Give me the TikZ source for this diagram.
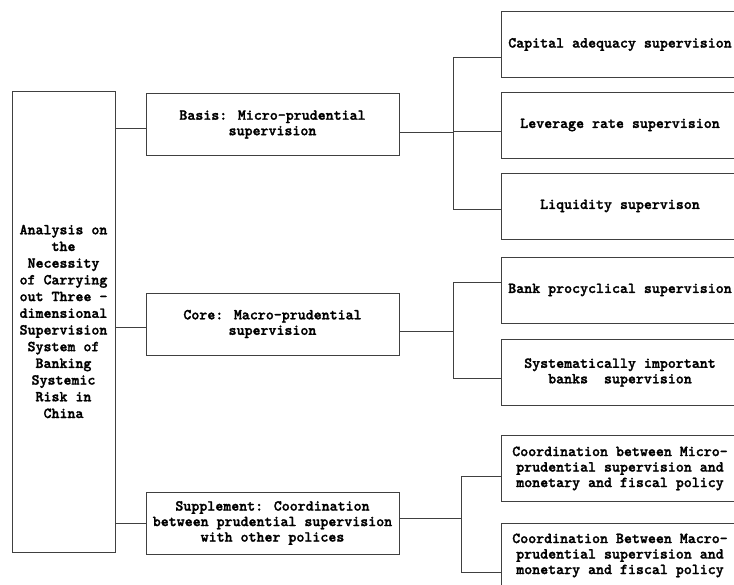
\documentclass[tikz,border=0pt]{standalone}
\usepackage{fontspec}
\newfontfamily\boxfont{lmmonolt10-bold.otf}[FakeBold=1.6]
\usetikzlibrary{calc}

\begin{document}
\begin{tikzpicture}[x=1pt,y=-1pt,
  box/.style={draw=black!75,line width=0.9pt,align=center,inner sep=0pt,
    font=\boxfont\fontsize{15.2}{15.5}\selectfont},
  midbox/.style={box,minimum width=253pt,minimum height=62pt},
  leafbox/.style={box,minimum width=238pt,minimum height=66pt},
  link/.style={draw=black!75,line width=0.9pt}]
\useasboundingbox (0,0) rectangle (734,585);

% root
\node[box,minimum width=103pt,minimum height=461pt,
  font=\boxfont\fontsize{15.2}{16.7}\selectfont] (main) at (63.5,321.5)
  {Analysis on\\the\\Necessity\\of Carrying\\out Three -\\dimensional\\Supervision\\System of\\Banking\\Systemic\\Risk in\\China};

% second level
\node[midbox] (basis) at (272.5,124.5) {Basis: Micro-prudential\\supervision};
\node[midbox] (core) at (272.5,324) {Core: Macro-prudential\\supervision};
\node[midbox] (supp) at (272.5,523) {Supplement: Coordination\\between prudential supervision\\with other polices};

% third level
\node[leafbox] (cap) at (620,44.5) {Capital adequacy supervision};
\node[leafbox] (lev) at (620,125) {Leverage rate supervision};
\node[leafbox] (liq) at (620,206) {Liquidity supervison};
\node[leafbox] (proc) at (620,290) {Bank procyclical supervision};
\node[leafbox] (sib) at (620,372.5) {Systematically important\\banks~~supervision};
\node[leafbox] (comi) at (620,468.5) {Coordination between Micro-\\prudential supervision and\\monetary and fiscal policy};
\node[leafbox,minimum height=65pt] (coma) at (620,555.5) {Coordination Between Macro-\\prudential supervision and\\monetary and fiscal policy};

% root to second level
\draw[link] ([yshift=-3.5pt]basis.west) -- ++(-31,0);
\draw[link] ([yshift=-3pt]core.west) -- ++(-31,0);
\draw[link] (supp.west) -- ++(-31,0);

% basis branch
\draw[link] ([yshift=-7.5pt]basis.east) -- ++(54,0) coordinate (bus1);
\draw[link] ([yshift=-12.5pt]cap.west) -| (bus1) |- ([yshift=-3pt]liq.west);
\draw[link] ([yshift=-6pt]lev.west) -- ++(-48,0);

% core branch
\draw[link] ([yshift=-7pt]core.east) -- ++(54,0) coordinate (bus2);
\draw[link] ([yshift=8pt]proc.west) -| (bus2) |- ([yshift=-5.5pt]sib.west);

% supplement branch
\draw[link] ([yshift=5pt]supp.east) -- ++(62,0) coordinate (bus3);
\draw[link] ([yshift=-7.5pt]comi.west) -| (bus3) |- ([yshift=-16.5pt]coma.west);

\end{tikzpicture}
\end{document}
